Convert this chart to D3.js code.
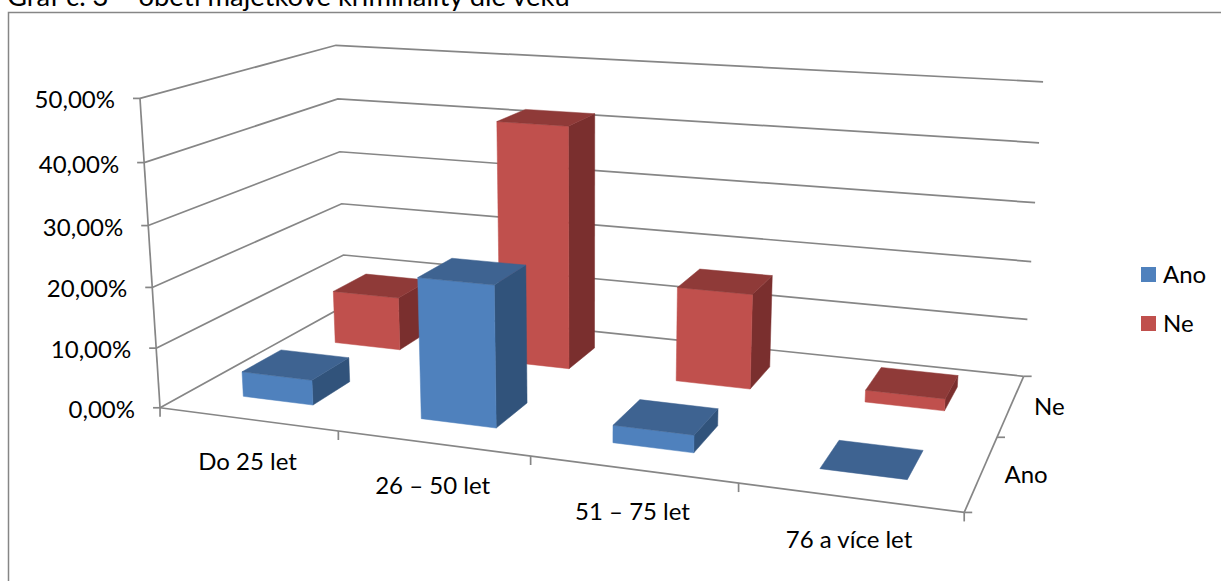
<!DOCTYPE html>
<html lang="cs">
<head>
<meta charset="UTF-8">
<title>Graf č. 3</title>
<script src="https://cdn.jsdelivr.net/npm/d3@7/dist/d3.min.js"></script>
<style>
    html, body { margin: 0; padding: 0; background: #fff; overflow: hidden; }
    text { font-family: Lato, "Open Sans", sans-serif; fill: #000; }
</style>
</head>
<body>
<div id="chart"></div>
<script>
const titleText = "Graf č. 3 – oběti majetkové kriminality dle věku";
const categories = ["Do 25 let", "26 – 50 let", "51 – 75 let", "76 a více let"];
const seriesNames = ["Ano", "Ne"];
const anoValues = [4.2, 23, 2.8, 0];
const neValues = [9.5, 42, 16.2, 2];
const valueTicks = [0, 10, 20, 30, 40, 50];

const seriesColors = {
    Ano: { front: "#4f81bd", top: "#3e6391", side: "#31537b" },
    Ne: { front: "#c0504d", top: "#8f3a38", side: "#7a2f2e" }
};

const width = 1221, height = 581;
const labelSize = "24px";

// data -> model space
const xBand = d3.scaleBand().domain(categories).range([0, 4]).paddingInner(0.6).paddingOuter(0.3);
const zBand = d3.scaleBand().domain(seriesNames).range([0, 2]).paddingInner(0.6).paddingOuter(0.3);
const yScale = d3.scaleLinear().domain([0, 50]).range([0, 5]);

// where the plot box sits on screen, [x, z, y, screenX, screenY]
const cameraFit = [
    [0, 0, 0, 160, 407.5], [0, 0, 1, 156, 348], [0, 0, 2, 153, 287], [0, 0, 3, 149, 226], [0, 0, 4, 144, 163], [0, 0, 5, 139, 98],
    [0, 2, 0, 345, 305], [0, 2, 1, 343, 255], [0, 2, 2, 342, 204], [0, 2, 3, 340, 152], [0, 2, 4, 338, 99], [0, 2, 5, 336, 45],
    [4, 2, 0, 1023, 377], [4, 2, 1, 1028, 319], [4, 2, 2, 1031, 262], [4, 2, 3, 1035, 202], [4, 2, 4, 1039, 143], [4, 2, 5, 1043, 82],
    [1, 0, 0, 338, 432], [2, 0, 0, 531, 456], [3, 0, 0, 738, 483], [4, 0, 0, 964, 512], [4, 1, 0, 998, 437]
];

// least squares fit of the 3x4 camera matrix
function fitCamera(points) {
    const n = 11;
    const A = d3.range(n).map(() => new Array(n + 1).fill(0));
    const addRow = (row, rhs) => {
        for (let i = 0; i < n; i++) {
            for (let j = 0; j < n; j++) A[i][j] += row[i] * row[j];
            A[i][n] += row[i] * rhs;
        }
    };
    points.forEach(([x, z, y, u, v]) => {
        addRow([x, y, z, 1, 0, 0, 0, 0, -u * x, -u * y, -u * z], u);
        addRow([0, 0, 0, 0, x, y, z, 1, -v * x, -v * y, -v * z], v);
    });
    for (let c = 0; c < n; c++) {
        let best = c;
        for (let r = c + 1; r < n; r++) if (Math.abs(A[r][c]) > Math.abs(A[best][c])) best = r;
        [A[c], A[best]] = [A[best], A[c]];
        for (let r = 0; r < n; r++) {
            if (r === c) continue;
            const f = A[r][c] / A[c][c];
            for (let k = c; k <= n; k++) A[r][k] -= f * A[c][k];
        }
    }
    return A.map((row, i) => row[n] / row[i]);
}
const cam = fitCamera(cameraFit);

function project(x, z, y) {
    const w = cam[8] * x + cam[9] * y + cam[10] * z + 1;
    return [
        (cam[0] * x + cam[1] * y + cam[2] * z + cam[3]) / w,
        (cam[4] * x + cam[5] * y + cam[6] * z + cam[7]) / w
    ];
}

const svg = d3.select("#chart").append("svg")
    .attr("width", width)
    .attr("height", height)
    .style("display", "block");

// outer frame, right and bottom edges run off the picture
svg.append("rect")
    .attr("x", 8.5).attr("y", 12.5)
    .attr("width", width + 40).attr("height", height + 40)
    .attr("fill", "#fff").attr("stroke", "#868686").attr("stroke-width", 1.5);

svg.append("text")
    .attr("x", 7).attr("y", 6)
    .style("font-size", "27.4px")
    .text(titleText);

const line = d3.line();
const axisLayer = svg.append("g")
    .attr("fill", "none").attr("stroke", "#868686").attr("stroke-width", 1.7);
const drawLine = pts => axisLayer.append("path").attr("d", line(pts));

// gridlines on the two walls
valueTicks.forEach(v => {
    const y = yScale(v);
    drawLine([project(0, 0, y), project(0, 2, y), project(4, 2, y)]);
    // tick on the value axis
    const p = project(0, 0, y);
    drawLine([[p[0] - 7, p[1]], p]);
});
drawLine([project(0, 0, 0), project(0, 0, 5)]);
drawLine([project(0, 0, 0), project(4, 0, 0)]);
drawLine([project(4, 0, 0), project(4, 2, 0)]);

// category ticks
d3.range(0, 5).forEach(i => {
    const p = project(i, 0, 0);
    drawLine([p, [p[0], p[1] + 9]]);
});
// depth ticks
d3.range(0, 3).forEach(i => {
    const p = project(4, i, 0);
    drawLine([p, [p[0] + 8, p[1]]]);
});

// bars, back row first so the front row covers it
const rows = [
    { name: "Ne", values: neValues },
    { name: "Ano", values: anoValues }
];
const barLayer = svg.append("g");
rows.forEach(row => {
    const colors = seriesColors[row.name];
    const z0 = zBand(row.name), z1 = z0 + zBand.bandwidth();
    categories.forEach((cat, i) => {
        const x0 = xBand(cat), x1 = x0 + xBand.bandwidth();
        const y = yScale(row.values[i]);
        const face = (pts, fill) => barLayer.append("path")
            .attr("d", line(pts) + "Z")
            .attr("fill", fill)
            .attr("stroke", fill)
            .attr("stroke-width", 0.5);
        if (y > 0) {
            face([project(x1, z0, 0), project(x1, z1, 0), project(x1, z1, y), project(x1, z0, y)], colors.side);
            face([project(x0, z0, 0), project(x1, z0, 0), project(x1, z0, y), project(x0, z0, y)], colors.front);
        }
        face([project(x0, z0, y), project(x1, z0, y), project(x1, z1, y), project(x0, z1, y)], colors.top);
    });
});

// value labels
valueTicks.forEach(v => {
    const p = project(0, 0, yScale(v));
    svg.append("text")
        .attr("x", p[0] - 25).attr("y", p[1] + 10)
        .attr("text-anchor", "end")
        .style("font-size", labelSize)
        .text(d3.format(".2f")(v).replace(".", ",") + "%");
});

// category labels
categories.forEach((cat, i) => {
    const p = project(i + 0.5, 0, 0);
    svg.append("text")
        .attr("x", p[0]).attr("y", p[1] + 51)
        .attr("text-anchor", "middle")
        .style("font-size", labelSize)
        .text(cat);
});

// depth labels
seriesNames.forEach((name, i) => {
    const p = project(4, i + 0.5, 0);
    svg.append("text")
        .attr("x", p[0] + 23).attr("y", p[1] + 10)
        .style("font-size", labelSize)
        .text(name);
});

// legend
const legendY = d3.scalePoint().domain(seriesNames).range([267, 316]);
seriesNames.forEach(name => {
    svg.append("rect")
        .attr("x", 1141).attr("y", legendY(name))
        .attr("width", 15).attr("height", 15)
        .attr("fill", seriesColors[name].front);
    svg.append("text")
        .attr("x", 1163).attr("y", legendY(name) + 16)
        .style("font-size", labelSize)
        .text(name);
});
</script>
</body>
</html>
